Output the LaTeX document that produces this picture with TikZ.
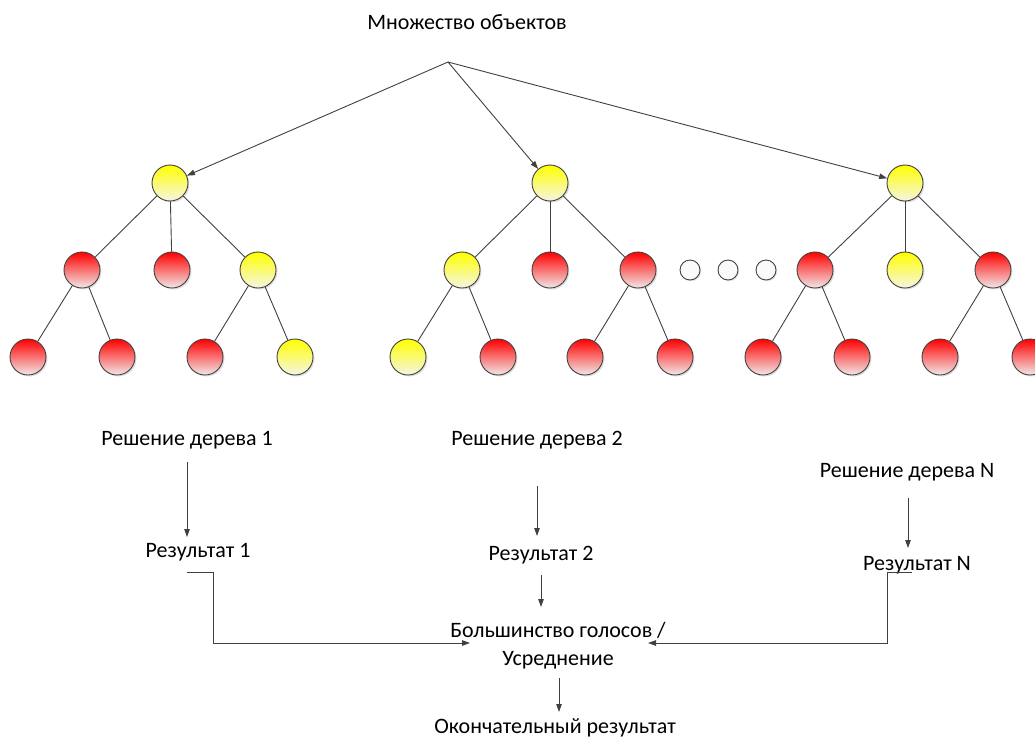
\documentclass[tikz,border=0pt]{standalone}
\usepackage{fontspec}
\setmainfont{Carlito}
\usetikzlibrary{arrows.meta,shadows}
\definecolor{edgegray}{RGB}{64,64,64}
\definecolor{redtop}{RGB}{255,0,0}
\definecolor{redbot}{RGB}{242,232,232}
\definecolor{yeltop}{RGB}{255,255,0}
\definecolor{yelbot}{RGB}{245,245,228}
\begin{document}
\begin{tikzpicture}[x=1pt,y=-1pt,
  every node/.style={font=\fontsize{22}{28}\selectfont},
  ball/.style={circle,draw=edgegray,line width=0.9pt,minimum size=36pt,inner sep=0pt,
    drop shadow={opacity=0.25,shadow xshift=1.5pt,shadow yshift=-1.5pt}},
  redball/.style={ball,top color=redtop,bottom color=redbot},
  yelball/.style={ball,top color=yeltop,bottom color=yelbot},
  dotball/.style={circle,draw=edgegray,line width=0.9pt,minimum size=20pt,inner sep=0pt,fill=white!96!gray,
    drop shadow={opacity=0.25,shadow xshift=1.2pt,shadow yshift=-1.2pt}},
  branch/.style={draw=edgegray,line width=0.9pt},
  flow/.style={draw=edgegray,line width=0.9pt,-{Triangle[length=8pt,width=5.5pt]}},
  lbl/.style={inner sep=0pt,text=black}
]
\useasboundingbox (0,0) rectangle (1035,740);

% title and split point
\node[lbl] (title) at (467,22) {Множество объектов};
\coordinate (root) at (448,62);

% tree 1
\node[yelball] (a) at (170,183) {};
\node[redball] (a1) at (82,270) {};
\node[redball] (a2) at (172,270) {};
\node[yelball] (a3) at (258,270) {};
\node[redball] (a11) at (28,357) {};
\node[redball] (a12) at (117,357) {};
\node[redball] (a31) at (205,357) {};
\node[yelball] (a32) at (295,357) {};

% tree 2
\node[yelball] (b) at (550,183) {};
\node[yelball] (b1) at (462,270) {};
\node[redball] (b2) at (550,270) {};
\node[redball] (b3) at (638,270) {};
\node[yelball] (b11) at (408,357) {};
\node[redball] (b12) at (498,357) {};
\node[redball] (b31) at (585,357) {};
\node[redball] (b32) at (675,357) {};

% ellipsis between trees
\node[dotball] (d1) at (690,270) {};
\node[dotball] (d2) at (728,270) {};
\node[dotball] (d3) at (766,270) {};

% tree N
\node[yelball] (c) at (905,183) {};
\node[redball] (c1) at (815,270) {};
\node[yelball] (c2) at (905,270) {};
\node[redball] (c3) at (993,270) {};
\node[redball] (c11) at (763,357) {};
\node[redball] (c12) at (852,357) {};
\node[redball] (c31) at (940,357) {};
\node[redball] (c32) at (1030,357) {};

% branches
\foreach \p/\q in {a/a1,a/a2,a/a3,a1/a11,a1/a12,a3/a31,a3/a32,
                   b/b1,b/b2,b/b3,b1/b11,b1/b12,b3/b31,b3/b32,
                   c/c1,c/c2,c/c3,c1/c11,c1/c12,c3/c31,c3/c32}
  \path[branch] (\p) -- (\q);

% sampling arrows
\path[flow] (root) -- (a);
\path[flow] (root) -- (b);
\path[flow] (root) -- (c);

% per-tree decisions
\node[lbl] (s1) at (187,440) {Решение дерева 1};
\node[lbl] (s2) at (537,440) {Решение дерева 2};
\node[lbl] (sn) at (907,472) {Решение дерева N};
\node[lbl] (r1) at (198,552) {Результат 1};
\node[lbl] (r2) at (541,555) {Результат 2};
\node[lbl] (rn) at (917,565) {Результат N};

\coordinate (s1b) at (187,462);
\coordinate (r1t) at (187,537);
\coordinate (s2b) at (537,486);
\coordinate (r2t) at (537,536);
\coordinate (snb) at (908,498);
\coordinate (rnt) at (908,548);
\path[flow] (s1b) -- (r1t);
\path[flow] (s2b) -- (r2t);
\path[flow] (snb) -- (rnt);

% aggregation
\node[lbl,align=center] (vote) at (558,646) {Большинство голосов /\\Усреднение};
\node[lbl] (final) at (555,728) {Окончательный результат};

\coordinate (r1e) at (187,572);
\coordinate (rne) at (912,572);
\coordinate (vl) at (470,643);
\coordinate (vr) at (648,643);
\coordinate (r2b) at (541,575);
\coordinate (vt) at (541,607);
\coordinate (vb) at (559,678);
\coordinate (ft) at (559,712);
\path[flow] (r1e) -- (213,572) -- (213,643) -- (vl);
\path[flow] (rne) -- (887,572) -- (887,643) -- (vr);
\path[flow] (r2b) -- (vt);
\path[flow] (vb) -- (ft);
\end{tikzpicture}
\end{document}
